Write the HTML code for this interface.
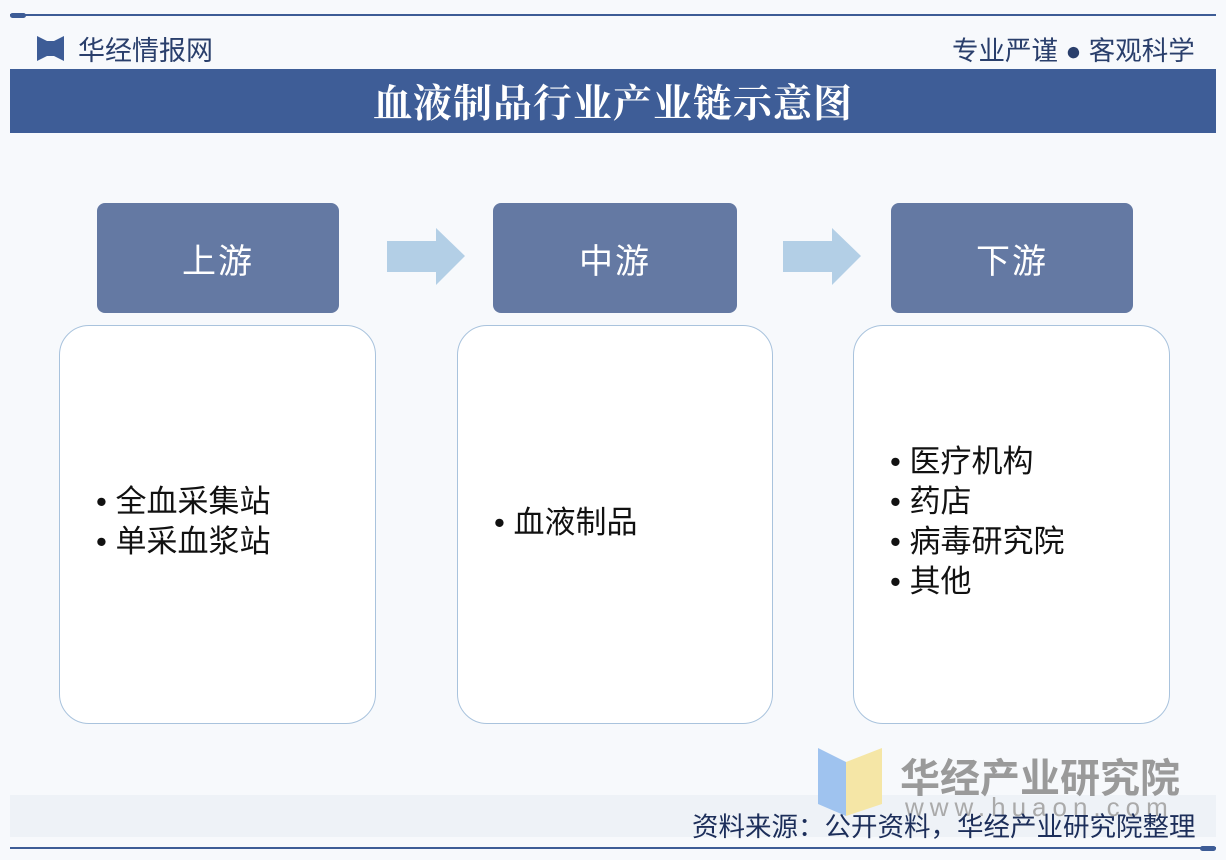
<!DOCTYPE html>
<html><head><meta charset="utf-8"><style>
body{margin:0;width:1226px;height:860px;background:#f7f9fc;position:relative;overflow:hidden;font-family:"Liberation Sans","Noto Sans CJK SC",sans-serif}
.a{position:absolute}
.hd{position:absolute;top:203px;height:110px;background:#6479a3;border-radius:8px;color:#fff;font-size:34px;display:flex;align-items:center;justify-content:center;letter-spacing:2px}
.bx{position:absolute;top:325px;height:399px;border:1.5px solid #a9c3dd;border-radius:30px;background:#fff;box-sizing:border-box}
.t{position:absolute;font-size:31px;color:#111;line-height:40px}
.ar{position:absolute;top:228px;width:78px;height:57px}
</style></head><body>
<div class="a" style="left:10px;top:14px;width:1206px;height:2px;background:#3d5c96"></div>
<div class="a" style="left:10px;top:13px;width:16px;height:5px;border-radius:3px;background:#3d5c96"></div>
<svg class="a" style="left:37px;top:36px" width="27" height="25"><polygon points="0,0 10,5 10,20 0,25" fill="#3d5c96"/><polygon points="27,0 17,5 17,20 27,25" fill="#3d5c96"/><rect x="9" y="5" width="9" height="15" fill="#3d5c96"/></svg>
<div class="a" style="left:78px;top:29px;font-size:27px;color:#2a3f6c">华经情报网</div>
<div class="a" style="left:952px;top:29px;font-size:26.5px;color:#2a3f6c">专业严谨 ● 客观科学</div>
<div class="a" style="left:10px;top:69px;width:1206px;height:64px;background:#3e5d97;color:#fff;font-size:39px;font-weight:bold;font-family:'Noto Serif CJK SC',serif;display:flex;align-items:center;justify-content:center;letter-spacing:1px">血液制品行业产业链示意图</div>
<div class="hd" style="left:97px;width:242px">上游</div>
<div class="hd" style="left:493px;width:244px">中游</div>
<div class="hd" style="left:891px;width:242px">下游</div>
<svg class="ar" style="left:387px"><polygon points="0,13 49,13 49,0 78,28 49,57 49,44 0,44" fill="#b3cfe6"/></svg>
<svg class="ar" style="left:783px"><polygon points="0,13 49,13 49,0 78,28 49,57 49,44 0,44" fill="#b3cfe6"/></svg>
<div class="bx" style="left:59px;width:317px"></div>
<div class="bx" style="left:457px;width:316px"></div>
<div class="bx" style="left:853px;width:317px"></div>
<div class="t" style="left:96px;top:482px">• 全血采集站<br>• 单采血浆站</div>
<div class="t" style="left:494px;top:503px">• 血液制品</div>
<div class="t" style="left:890px;top:442px">• 医疗机构<br>• 药店<br>• 病毒研究院<br>• 其他</div>
<div class="a" style="left:10px;top:795px;width:1206px;height:42px;background:#eef2f7"></div>
<svg class="a" style="left:818px;top:748px" width="64" height="68"><polygon points="0,0 28,14 28,68 0,56" fill="#9fc3ef"/><polygon points="64,0 28,14 28,68 64,56" fill="#f5e6a6"/></svg>
<div class="a" style="left:900px;top:746px;font-size:40px;color:#8a8a8a;font-weight:bold;opacity:.85">华经产业研究院</div>
<div class="a" style="left:905px;top:792px;font-size:26px;color:#aaa;letter-spacing:6px">www.huaon.com</div>
<div class="a" style="left:692px;top:805px;font-size:26.5px;color:#1c2e5a">资料来源：公开资料，华经产业研究院整理</div>
<div class="a" style="left:10px;top:847px;width:1206px;height:2px;background:#3d5c96"></div>
<div class="a" style="left:1200px;top:846px;width:16px;height:5px;border-radius:3px;background:#3d5c96"></div>
</body></html>
